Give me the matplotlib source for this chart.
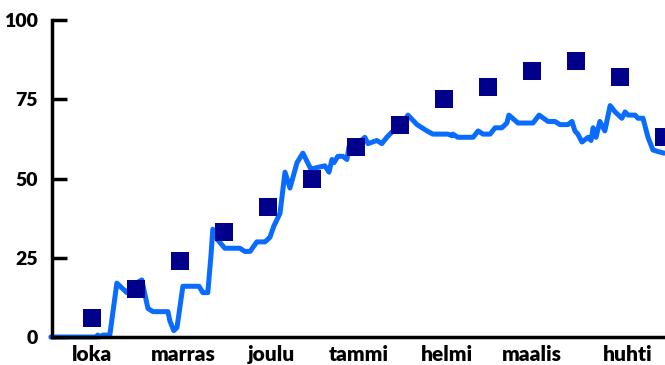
import numpy as np
import matplotlib.pyplot as plt

# päiväindeksi lokakuun alusta ja päivittäinen käyrä (taitepisteet)
line_days = [0, 15.7, 16, 16.7, 17.7, 20.1, 22.5, 25.9, 27.3, 31, 33.1, 34.8, 39.9, 40.6,
             41.9, 43, 45, 50.5, 51.8, 53.5, 54.6, 55.2, 56.9, 59.3, 64.4, 66.1, 67.9,
             70.2, 73, 74.7, 76, 78.1, 79.8, 81.5, 83.9, 85.9, 88.6, 93.4, 94.8, 95.8,
             96.5, 97.8, 99.5, 100.9, 101.6, 103, 104.7, 107, 108.1, 111.1, 112.8, 114.5,
             116.6, 118.9, 121.7, 124.8, 128.2, 130.2, 135.3, 136.7, 137, 138.7, 143.9,
             145.6, 147.3, 149.7, 151.4, 153.7, 155.4, 156.1, 159.2, 164.3, 166.4, 169.4,
             171.8, 173.5, 176.2, 177.6, 178.6, 179.6, 181, 183.1, 184.1, 184.8, 185.8,
             187.1, 188.8, 190.6, 192.3, 194.6, 195.7, 196.7, 199.1, 200.1, 201.8, 203.5,
             205.2, 206.9, 209]
line_vals = [0, 0, 0.6, 0, 0.6, 0.6, 17, 14, 16, 18, 9, 8, 8, 5,
             2, 3, 16, 16, 14, 14, 26, 34, 30.6, 28, 28, 27, 27,
             30, 30, 31.5, 35, 39, 52, 47, 55, 58, 53, 54, 52, 56,
             55, 57, 57, 56, 60, 61, 61, 63, 61, 62, 61, 63,
             65, 66, 70, 67, 65, 64, 64, 63.5, 64, 63, 63,
             65, 64, 64, 66, 66, 67.5, 70, 67.5, 67.5, 70, 68,
             68, 67, 67, 68, 65, 64, 61.5, 63, 62, 66, 63,
             68, 65, 73, 71, 69, 71, 70, 70, 69, 69, 63,
             59, 58.5, 58]

# kahden viikon välein mitatut pisteet
pt_days = [14, 29, 44, 59, 74, 89, 104, 119, 134, 149, 164, 179, 194, 209]
pt_vals = [6, 15, 24, 33, 41, 50, 60, 67, 75, 79, 84, 87, 82, 63]

month_pos = [14, 45, 75, 105, 135, 164, 196.5]
month_names = ['loka', 'marras', 'joulu', 'tammi', 'helmi', 'maalis', 'huhti']

plt.rcParams['font.family'] = ['Lato', 'DejaVu Sans']

fig = plt.figure(figsize=(6.65, 3.65), dpi=100)
ax = fig.add_axes([52 / 665, 28 / 365, 613 / 665, 317 / 365])

ax.plot(line_days, line_vals, color='#0a6bff', lw=3.6, solid_joinstyle='round',
        solid_capstyle='round', clip_on=False, zorder=2)
ax.scatter(pt_days, pt_vals, marker='s', s=175, color='#00008b', lw=0,
           clip_on=False, zorder=3)

ax.set_xlim(0.4, 209.3)
ax.set_ylim(0, 100)
ax.set_yticks([0, 25, 50, 75, 100])
ax.set_xticks(month_pos)
ax.set_xticklabels(month_names)

for s in ['top', 'right']:
    ax.spines[s].set_visible(False)
for s in ['left', 'bottom']:
    ax.spines[s].set_linewidth(2.5)
    ax.spines[s].set_color('black')

ax.tick_params(axis='y', direction='in', length=11, width=2.5, pad=10,
               labelsize=14)
ax.tick_params(axis='x', length=0, pad=6, labelsize=15)
for lab in ax.get_xticklabels() + ax.get_yticklabels():
    lab.set_fontweight('heavy')

fig.savefig('out.png', dpi=100)
